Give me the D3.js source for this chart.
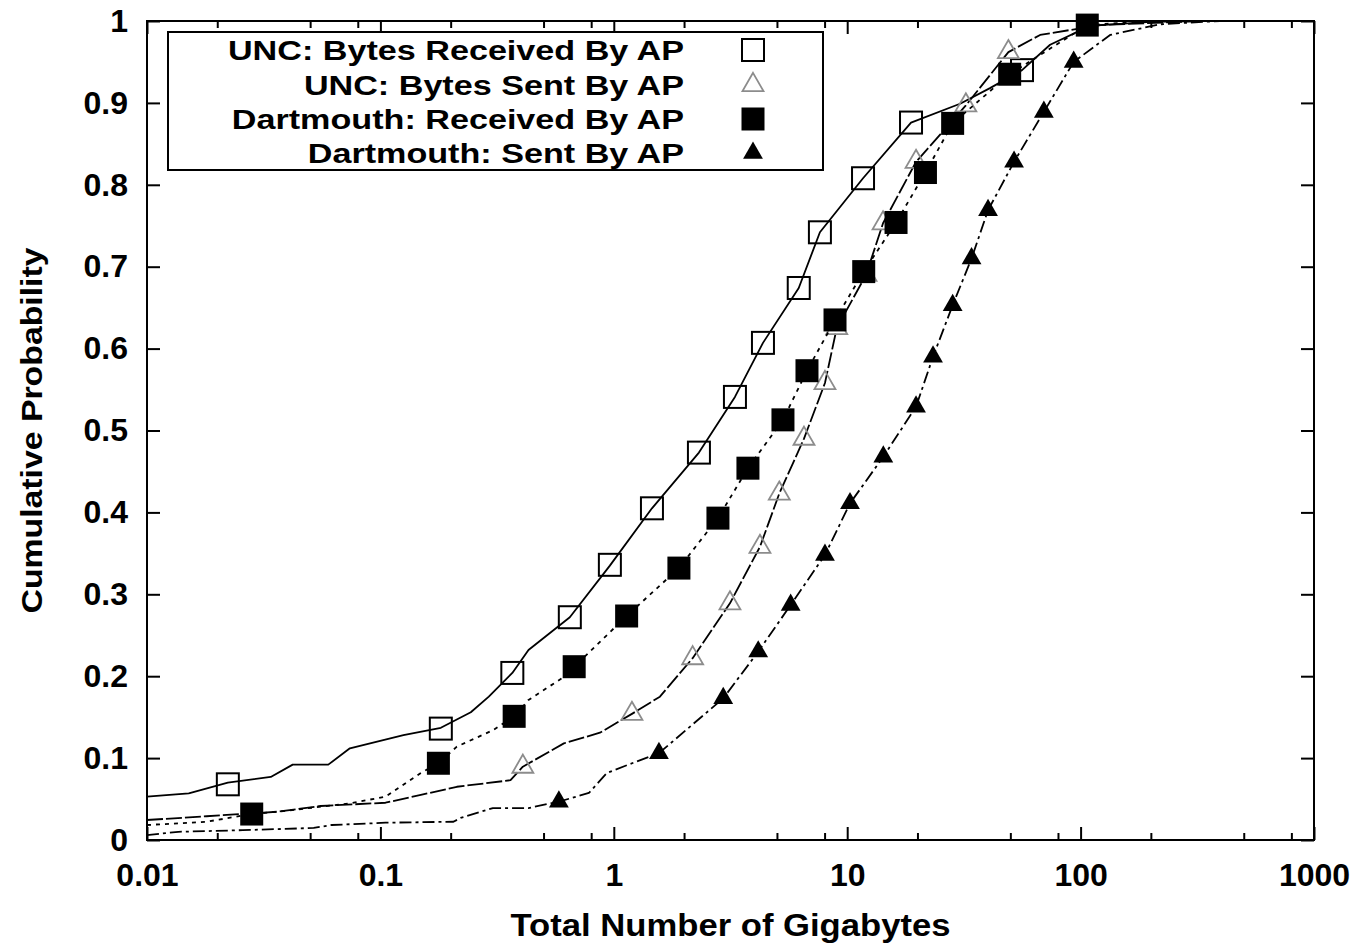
<!DOCTYPE html>
<html>
<head>
<meta charset="utf-8">
<script src="https://cdn.jsdelivr.net/npm/d3@7"></script>
<style>
  html, body { margin: 0; padding: 0; background: #fff; }
  svg { display: block; }
  text { font-family: "Liberation Sans", Arial, Helvetica, sans-serif; font-weight: bold; fill: #000; }
</style>
</head>
<body>
<svg id="chart" width="1356" height="945"></svg>
<script>
// ---------------- data ----------------
const seriesNames = [
  "UNC: Bytes Received By AP",
  "UNC: Bytes Sent By AP",
  "Dartmouth: Received By AP",
  "Dartmouth: Sent By AP"
];

// UNC: Bytes Received By AP  (GB, cumulative probability)
const uncRecvX = [0.010, 0.0151, 0.0222, 0.0339, 0.0421, 0.0598, 0.0740, 0.1255, 0.1815, 0.244, 0.2914, 0.3675, 0.431, 0.648, 0.962, 1.457, 2.316, 3.304, 4.356, 6.2, 7.64, 11.69, 18.77, 30.45, 40.9, 56.1, 74.0, 109.8, 198.6, 325];
const uncRecvP = [0.053, 0.057, 0.070, 0.077, 0.092, 0.092, 0.112, 0.128, 0.137, 0.156, 0.175, 0.204, 0.232, 0.272, 0.335, 0.405, 0.473, 0.541, 0.607, 0.674, 0.742, 0.808, 0.876, 0.899, 0.918, 0.940, 0.971, 0.994, 0.999, 1.0];
const uncRecvMarkX = [0.0222, 0.1815, 0.3675, 0.648, 0.962, 1.457, 2.316, 3.304, 4.356, 6.2, 7.64, 11.69, 18.77, 56.1];
const uncRecvMarkP = [0.068, 0.136, 0.204, 0.272, 0.336, 0.405, 0.473, 0.541, 0.607, 0.674, 0.742, 0.808, 0.876, 0.940];

// UNC: Bytes Sent By AP
const uncSentX = [0.010, 0.0180, 0.0365, 0.0555, 0.1052, 0.149, 0.2126, 0.361, 0.4077, 0.611, 0.872, 1.196, 1.576, 2.177, 3.145, 4.229, 5.117, 6.53, 8.03, 9.02, 12.04, 14.24, 19.72, 32.24, 49.05, 67.05, 121.2, 325];
const uncSentP = [0.0244, 0.029, 0.0346, 0.0415, 0.0455, 0.055, 0.065, 0.073, 0.0895, 0.118, 0.131, 0.154, 0.175, 0.222, 0.289, 0.358, 0.423, 0.490, 0.558, 0.625, 0.690, 0.753, 0.828, 0.897, 0.962, 0.983, 0.995, 1.0];
const uncSentMarkX = [0.4077, 1.196, 2.177, 3.145, 4.229, 5.117, 6.53, 8.03, 9.02, 12.04, 14.24, 19.72, 32.24, 49.05];
const uncSentMarkP = [0.0895, 0.154, 0.222, 0.289, 0.358, 0.423, 0.490, 0.558, 0.625, 0.690, 0.753, 0.828, 0.897, 0.962];

// Dartmouth: Received By AP
const dartRecvX = [0.010, 0.0180, 0.0281, 0.0365, 0.0740, 0.1052, 0.149, 0.1772, 0.2126, 0.3032, 0.3742, 0.431, 0.611, 0.6765, 1.135, 1.901, 2.794, 3.756, 5.306, 6.725, 8.867, 11.77, 16.19, 21.64, 28.30, 49.67, 106.8, 198.6];
const dartRecvP = [0.0183, 0.0223, 0.0317, 0.0346, 0.0448, 0.0529, 0.0818, 0.0937, 0.114, 0.134, 0.151, 0.171, 0.199, 0.2116, 0.2735, 0.332, 0.393, 0.454, 0.513, 0.573, 0.635, 0.694, 0.754, 0.815, 0.875, 0.935, 0.995, 1.0];
const dartRecvMarkX = [0.0281, 0.1772, 0.3742, 0.6765, 1.135, 1.901, 2.794, 3.756, 5.306, 6.725, 8.867, 11.77, 16.19, 21.64, 28.30, 49.67, 106.8];
const dartRecvMarkP = [0.0317, 0.0937, 0.151, 0.2116, 0.2735, 0.332, 0.393, 0.454, 0.513, 0.573, 0.635, 0.694, 0.754, 0.815, 0.875, 0.935, 0.995];

// Dartmouth: Sent By AP
const dartSentX = [0.010, 0.01362, 0.0257, 0.0518, 0.0619, 0.1052, 0.2056, 0.2205, 0.3032, 0.431, 0.5817, 0.782, 0.934, 1.244, 1.561, 2.944, 4.157, 5.725, 8.03, 10.28, 14.28, 19.72, 23.32, 28.30, 34.10, 40.13, 51.87, 69.6, 93.4, 133.8, 219, 396];
const dartSentP = [0.006, 0.010, 0.012, 0.0147, 0.0183, 0.0211, 0.0223, 0.0269, 0.039, 0.039, 0.0468, 0.0574, 0.0818, 0.0956, 0.106, 0.173, 0.230, 0.287, 0.348, 0.411, 0.468, 0.529, 0.590, 0.653, 0.710, 0.769, 0.828, 0.889, 0.950, 0.983, 0.996, 1.0];
const dartSentMarkX = [0.5817, 1.561, 2.944, 4.157, 5.725, 8.03, 10.28, 14.28, 19.72, 23.32, 28.30, 34.10, 40.13, 51.87, 69.6, 93.4];
const dartSentMarkP = [0.0468, 0.106, 0.173, 0.230, 0.287, 0.348, 0.411, 0.468, 0.529, 0.590, 0.653, 0.710, 0.769, 0.828, 0.889, 0.950];

// axis ticks
const xMajorTicks = [0.01, 0.1, 1, 10, 100, 1000];
const xTickLabels = ["0.01", "0.1", "1", "10", "100", "1000"];
const xMinorTicks = [0.02, 0.05, 0.08, 0.2, 0.5, 0.8, 2, 5, 8, 20, 50, 80, 200, 500, 800];
const yTicks = [0, 0.1, 0.2, 0.3, 0.4, 0.5, 0.6, 0.7, 0.8, 0.9, 1];
const yTickLabels = ["0", "0.1", "0.2", "0.3", "0.4", "0.5", "0.6", "0.7", "0.8", "0.9", "1"];
const xTitle = "Total Number of Gigabytes";
const yTitle = "Cumulative Probability";

// ---------------- drawing ----------------
const svg = d3.select("#chart");
const L = 147, R = 1314, T = 21, B = 840;
const x = d3.scaleLog().domain([0.01, 1000]).range([L, R]);
const y = d3.scaleLinear().domain([0, 1]).range([B, T]);

const series = [
  { xs: uncRecvX, ps: uncRecvP, mx: uncRecvMarkX, mp: uncRecvMarkP, dash: null, marker: "openSquare" },
  { xs: uncSentX, ps: uncSentP, mx: uncSentMarkX, mp: uncSentMarkP, dash: "16,3", marker: "openTriangle" },
  { xs: dartRecvX, ps: dartRecvP, mx: dartRecvMarkX, mp: dartRecvMarkP, dash: "4,5", marker: "filledSquare" },
  { xs: dartSentX, ps: dartSentP, mx: dartSentMarkX, mp: dartSentMarkP, dash: "12,4,3,4", marker: "filledTriangle" }
];

// axes (ticks inward)
const fmtX = d => xTickLabels[xMajorTicks.indexOf(d)];
const fmtY = d => yTickLabels[yTicks.indexOf(d)];

svg.append("g").attr("transform", `translate(0,${B})`)
  .call(d3.axisBottom(x).tickValues(xMajorTicks).tickFormat(fmtX).tickSize(-13).tickPadding(23));
svg.append("g").attr("transform", `translate(0,${B})`)
  .call(d3.axisBottom(x).tickValues(xMinorTicks).tickFormat("").tickSize(-7));
svg.append("g").attr("transform", `translate(0,${T})`)
  .call(d3.axisTop(x).tickValues(xMajorTicks).tickFormat("").tickSize(-13));
svg.append("g").attr("transform", `translate(0,${T})`)
  .call(d3.axisTop(x).tickValues(xMinorTicks).tickFormat("").tickSize(-7));
svg.append("g").attr("transform", `translate(${L},0)`)
  .call(d3.axisLeft(y).tickValues(yTicks).tickFormat(fmtY).tickSize(-13).tickPadding(19));
svg.append("g").attr("transform", `translate(${R},0)`)
  .call(d3.axisRight(y).tickValues(yTicks).tickFormat("").tickSize(-13));

svg.selectAll(".domain").remove();
svg.selectAll(".tick line").attr("stroke", "#000").attr("stroke-width", 2);
svg.selectAll(".tick text").style("font-size", "32px").style("font-family", "'Liberation Sans', Arial, sans-serif").style("font-weight", "bold").attr("fill", "#000");

// frame
svg.append("rect").attr("x", L).attr("y", T).attr("width", R - L).attr("height", B - T)
  .attr("fill", "none").attr("stroke", "#000").attr("stroke-width", 2);

// axis titles
svg.append("text").attr("x", (L + R) / 2).attr("y", 936).attr("text-anchor", "middle")
  .style("font-size", "32px").attr("textLength", 440).attr("lengthAdjust", "spacingAndGlyphs").text(xTitle);
svg.append("text").attr("transform", `translate(42,${(T + B) / 2}) rotate(-90)`).attr("text-anchor", "middle")
  .style("font-size", "30px").attr("textLength", 366).attr("lengthAdjust", "spacingAndGlyphs").text(yTitle);

// marker drawing
const triOpen = d3.symbol(d3.symbolTriangle, 190);
const triFilled = d3.symbol(d3.symbolTriangle, 170);
function drawMarker(g, kind, cx, cy) {
  if (kind === "openSquare") {
    g.append("rect").attr("x", cx - 11).attr("y", cy - 11).attr("width", 22).attr("height", 22)
      .attr("fill", "none").attr("stroke", "#000").attr("stroke-width", 2);
  } else if (kind === "filledSquare") {
    g.append("rect").attr("x", cx - 11.5).attr("y", cy - 11.5).attr("width", 23).attr("height", 23)
      .attr("fill", "#000");
  } else if (kind === "openTriangle") {
    g.append("path").attr("d", triOpen()).attr("transform", `translate(${cx},${cy})`)
      .attr("fill", "none").attr("stroke", "#8c8c8c").attr("stroke-width", 1.8);
  } else {
    g.append("path").attr("d", triFilled()).attr("transform", `translate(${cx},${cy})`)
      .attr("fill", "#000");
  }
}

const line = d3.line().x(d => x(d[0])).y(d => y(d[1]));
const plot = svg.append("g");
series.forEach(s => {
  const pts = s.xs.map((v, i) => [v, s.ps[i]]);
  const p = plot.append("path").datum(pts).attr("d", line)
    .attr("fill", "none").attr("stroke", "#000").attr("stroke-width", 1.8).attr("stroke-linejoin", "round");
  if (s.dash) p.attr("stroke-dasharray", s.dash);
  const mg = plot.append("g");
  s.mx.forEach((v, i) => drawMarker(mg, s.marker, x(v), y(s.mp[i])));
});

// legend
const lg = svg.append("g");
lg.append("rect").attr("x", 168).attr("y", 32).attr("width", 655).attr("height", 138)
  .attr("fill", "#fff").attr("stroke", "#000").attr("stroke-width", 2);
const rowY = [50, 85, 119, 153];
seriesNames.forEach((name, i) => {
  lg.append("text").attr("transform", `translate(684,${rowY[i] + 10}) scale(1.22,1)`)
    .attr("text-anchor", "end").style("font-size", "28px").text(name);
  drawMarker(lg, series[i].marker, 753, rowY[i]);
});
</script>
</body>
</html>
